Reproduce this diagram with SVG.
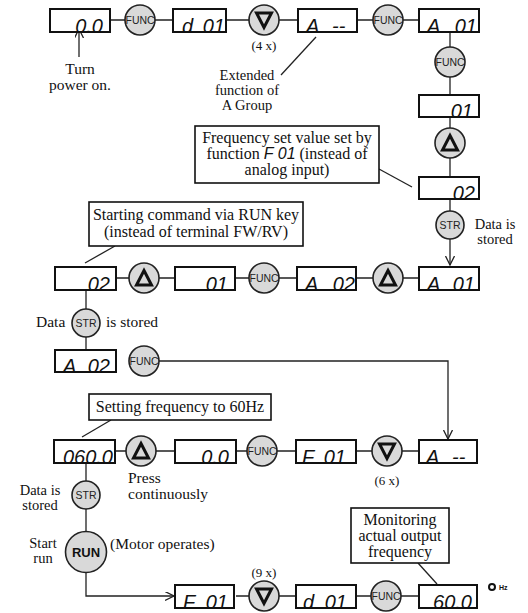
<svg xmlns="http://www.w3.org/2000/svg" width="528" height="613" viewBox="0 0 528 613">
<style>
.bx{fill:none;stroke:#111;stroke-width:2}
.bg{fill:#fff}
.d{font-family:"Liberation Sans",Arial,sans-serif;font-style:italic;font-size:20px;fill:#111}
.k{fill:#d9d9d9;stroke:#222;stroke-width:1.6}
.kt{font-family:"Liberation Sans",Arial,sans-serif;font-size:11.5px;fill:#222;text-anchor:middle}
.tri{fill:none;stroke:#111;stroke-width:3;stroke-linejoin:miter}
.t{font-family:"Liberation Serif","Times New Roman",serif;font-size:15.5px;fill:#111}
.s{font-size:14.5px}
.n{font-size:16px}
.c{text-anchor:middle}
.cl{fill:#fff;stroke:#111;stroke-width:1.6}
.ln{fill:none;stroke:#222;stroke-width:1.3}
</style>
<defs>
<marker id="ah" markerUnits="userSpaceOnUse" markerWidth="10" markerHeight="10" refX="9" refY="4.5" orient="auto">
<path d="M0,0 L9,4.5 L0,9" fill="none" stroke="#222" stroke-width="1.3"/>
</marker>
</defs>

<g id="connectors" class="ln">
<path d="M111,20H125M155,20H172M227,20H249M279,20H297M358,20H373M403,20H418"/>
<path d="M450,32V47M450,77V94M450,117V128M450,158V176M450,199V211"/>
<path d="M450,239V265" marker-end="url(#ah)"/>
<path d="M117,278H129M159,278H174M236,278H249M279,278H296M357,278H373M403,278H418"/>
<path d="M86,290V309M86,337V349"/>
<path d="M159,361H448V439" marker-end="url(#ah)"/>
<path d="M116,451H126M156,451H174M237,451H247M277,451H295M357,451H372M402,451H418"/>
<path d="M86,463V481M86,509V532"/>
<path d="M86,573V596H174" marker-end="url(#ah)"/>
<path d="M236,596H249M279,596H295M357,596H371M401,596H418"/>
<path d="M79,57V29" marker-end="url(#ah)"/>
<path d="M281,75L316,37"/>
<path d="M379,169L412,187"/>
<path d="M115,246L85,263"/>
<path d="M111,420L82,437"/>
<path d="M418,563L437,584"/>
</g>

<!-- Row 1 -->
<g id="n_disp1"><svg x="49" y="8" width="62" height="25"><rect class="bg" x="1" y="1" width="60" height="23"/><text class="d" x="54" y="25" text-anchor="end">0.0</text><rect class="bx" x="1" y="1" width="60" height="23"/></svg></g>
<g id="n_func1"><circle class="k" cx="140" cy="20" r="15"/><text class="kt" x="140" y="24" textLength="29" lengthAdjust="spacingAndGlyphs">FUNC</text></g>
<g id="n_disp2"><svg x="172" y="8" width="55" height="25"><rect class="bg" x="1" y="1" width="53" height="23"/><text class="d" x="10" y="25">d</text><text class="d" x="53" y="25" text-anchor="end">01</text><rect class="bx" x="1" y="1" width="53" height="23"/></svg></g>
<g id="n_down1"><circle class="k" cx="264" cy="20" r="15"/><path class="tri" d="M256.5,13H271.5L264,27.5Z"/></g>
<g id="n_disp3"><svg x="297" y="8" width="61" height="25"><rect class="bg" x="1" y="1" width="59" height="23"/><text class="d" x="9" y="25">A</text><text class="d" x="35" y="25">--</text><rect class="bx" x="1" y="1" width="59" height="23"/></svg></g>
<g id="n_func2"><circle class="k" cx="388" cy="20" r="15"/><text class="kt" x="388" y="24" textLength="29" lengthAdjust="spacingAndGlyphs">FUNC</text></g>
<g id="n_disp4"><svg x="418" y="8" width="62" height="25"><rect class="bg" x="1" y="1" width="60" height="23"/><text class="d" x="9" y="25">A</text><text class="d" x="59" y="25" text-anchor="end">01</text><rect class="bx" x="1" y="1" width="60" height="23"/></svg></g>

<!-- Right column -->
<g id="n_func3"><circle class="k" cx="450" cy="62" r="15"/><text class="kt" x="450" y="66" textLength="29" lengthAdjust="spacingAndGlyphs">FUNC</text></g>
<g id="n_disp5"><svg x="418" y="94" width="62" height="24"><rect class="bg" x="1" y="1" width="60" height="22"/><text class="d" x="55" y="24" text-anchor="end">01</text><rect class="bx" x="1" y="1" width="60" height="22"/></svg></g>
<g id="n_up1"><circle class="k" cx="450" cy="143" r="15"/><path class="tri" d="M450,135.5L457.5,150H442.5Z"/></g>
<g id="n_disp6"><svg x="418" y="176" width="62" height="24"><rect class="bg" x="1" y="1" width="60" height="22"/><text class="d" x="57" y="24" text-anchor="end">02</text><rect class="bx" x="1" y="1" width="60" height="22"/></svg></g>
<g id="n_str1"><circle class="k" cx="450" cy="225" r="14"/><text class="kt" x="450" y="229" style="font-size:10.5px">STR</text></g>

<!-- Row 3 -->
<g id="n_disp7"><svg x="54" y="266" width="63" height="25"><rect class="bg" x="1" y="1" width="61" height="23"/><text class="d" x="56" y="25" text-anchor="end">02</text><rect class="bx" x="1" y="1" width="61" height="23"/></svg></g>
<g id="n_up2"><circle class="k" cx="144" cy="278" r="15"/><path class="tri" d="M144,270.5L151.5,285H136.5Z"/></g>
<g id="n_disp8"><svg x="174" y="266" width="62" height="25"><rect class="bg" x="1" y="1" width="60" height="23"/><text class="d" x="54" y="25" text-anchor="end">01</text><rect class="bx" x="1" y="1" width="60" height="23"/></svg></g>
<g id="n_func4"><circle class="k" cx="264" cy="278" r="15"/><text class="kt" x="264" y="282" textLength="29" lengthAdjust="spacingAndGlyphs">FUNC</text></g>
<g id="n_disp9"><svg x="296" y="266" width="61" height="25"><rect class="bg" x="1" y="1" width="59" height="23"/><text class="d" x="9" y="25">A</text><text class="d" x="59" y="25" text-anchor="end">02</text><rect class="bx" x="1" y="1" width="59" height="23"/></svg></g>
<g id="n_up3"><circle class="k" cx="388" cy="278" r="15"/><path class="tri" d="M388,270.5L395.5,285H380.5Z"/></g>
<g id="n_disp10"><svg x="418" y="266" width="62" height="25"><rect class="bg" x="1" y="1" width="60" height="23"/><text class="d" x="9" y="25">A</text><text class="d" x="57" y="25" text-anchor="end">01</text><rect class="bx" x="1" y="1" width="60" height="23"/></svg></g>

<g id="n_str2"><circle class="k" cx="86" cy="323" r="14"/><text class="kt" x="86" y="327" style="font-size:10.5px">STR</text></g>
<g id="n_disp11"><svg x="54" y="349" width="63" height="24"><rect class="bg" x="1" y="1" width="61" height="22"/><text class="d" x="9" y="24">A</text><text class="d" x="56" y="24" text-anchor="end">02</text><rect class="bx" x="1" y="1" width="61" height="22"/></svg></g>
<g id="n_func5"><circle class="k" cx="144" cy="361" r="15"/><text class="kt" x="144" y="365" textLength="29" lengthAdjust="spacingAndGlyphs">FUNC</text></g>

<!-- Row 5 -->
<g id="n_disp12"><svg x="53" y="439" width="63" height="25"><rect class="bg" x="1" y="1" width="61" height="23"/><text class="d" x="60" y="25" text-anchor="end">060.0</text><rect class="bx" x="1" y="1" width="61" height="23"/></svg></g>
<g id="n_up4"><circle class="k" cx="141" cy="451" r="15"/><path class="tri" d="M141,443.5L148.5,458H133.5Z"/></g>
<g id="n_disp13"><svg x="174" y="439" width="63" height="25"><rect class="bg" x="1" y="1" width="61" height="23"/><text class="d" x="55" y="25" text-anchor="end">0.0</text><rect class="bx" x="1" y="1" width="61" height="23"/></svg></g>
<g id="n_func6"><circle class="k" cx="262" cy="451" r="15"/><text class="kt" x="262" y="455" textLength="29" lengthAdjust="spacingAndGlyphs">FUNC</text></g>
<g id="n_disp14"><svg x="295" y="439" width="62" height="25"><rect class="bg" x="1" y="1" width="60" height="23"/><text class="d" x="7" y="25">F</text><text class="d" x="51" y="25" text-anchor="end">01</text><rect class="bx" x="1" y="1" width="60" height="23"/></svg></g>
<g id="n_down2"><circle class="k" cx="387" cy="451" r="15"/><path class="tri" d="M379.5,444H394.5L387,458.5Z"/></g>
<g id="n_disp15"><svg x="418" y="439" width="60" height="25"><rect class="bg" x="1" y="1" width="58" height="23"/><text class="d" x="8" y="25">A</text><text class="d" x="34" y="25">--</text><rect class="bx" x="1" y="1" width="58" height="23"/></svg></g>

<g id="n_str3"><circle class="k" cx="86" cy="495" r="14"/><text class="kt" x="86" y="499" style="font-size:10.5px">STR</text></g>
<g id="n_run"><circle class="k" cx="86" cy="552" r="20.5"/><text class="kt" x="86" y="557" style="font-size:13px;font-weight:bold;fill:#111">RUN</text></g>

<!-- Row 6 -->
<g id="n_disp16"><svg x="174" y="584" width="61" height="25"><rect class="bg" x="1" y="1" width="59" height="23"/><text class="d" x="9" y="25">F</text><text class="d" x="54" y="25" text-anchor="end">01</text><rect class="bx" x="1" y="1" width="59" height="23"/></svg></g>
<g id="n_down3"><circle class="k" cx="264" cy="596" r="15"/><path class="tri" d="M256.5,589H271.5L264,603.5Z"/></g>
<g id="n_disp17"><svg x="295" y="584" width="62" height="25"><rect class="bg" x="1" y="1" width="60" height="23"/><text class="d" x="8" y="25">d</text><text class="d" x="52" y="25" text-anchor="end">01</text><rect class="bx" x="1" y="1" width="60" height="23"/></svg></g>
<g id="n_func7"><circle class="k" cx="386" cy="596" r="15"/><text class="kt" x="386" y="600" textLength="29" lengthAdjust="spacingAndGlyphs">FUNC</text></g>
<g id="n_disp18"><svg x="418" y="584" width="60" height="25"><rect class="bg" x="1" y="1" width="58" height="23"/><text class="d" x="54" y="25" text-anchor="end">60.0</text><rect class="bx" x="1" y="1" width="58" height="23"/></svg></g>
<g id="n_hz"><circle cx="492" cy="587" r="3" fill="none" stroke="#111" stroke-width="2"/><text x="499" y="590" style="font-family:'Liberation Sans',Arial,sans-serif;font-size:7px;font-weight:bold;fill:#111">Hz</text></g>

<!-- Callouts -->
<g id="n_note1"><rect class="cl" x="195" y="126" width="184" height="57"/>
<text class="t n c" x="287" y="143">Frequency set value set by</text>
<text class="t n c" x="287" y="159">function <tspan style="font-family:'Liberation Sans',Arial,sans-serif;font-style:italic">F 01</tspan> (instead of</text>
<text class="t n c" x="287" y="175">analog input)</text></g>
<g id="n_note2"><rect class="cl" x="89" y="202" width="214" height="44"/>
<text class="t n c" x="196" y="220">Starting command via RUN key</text>
<text class="t n c" x="196" y="237">(instead of terminal FW/RV)</text></g>
<g id="n_note3"><rect class="cl" x="89" y="394" width="182" height="26"/>
<text class="t n c" x="180" y="412">Setting frequency to 60Hz</text></g>
<g id="n_note4"><rect class="cl" x="351" y="508" width="98" height="55"/>
<text class="t n c" x="400" y="525">Monitoring</text>
<text class="t n c" x="400" y="541">actual output</text>
<text class="t n c" x="400" y="557">frequency</text></g>

<!-- Labels -->
<g id="labels">
<text class="t c" x="80" y="74">Turn</text>
<text class="t c" x="80" y="89.5">power on.</text>
<text class="t c" x="264" y="50" style="font-size:13px">(4 x)</text>
<text class="t s c" x="247" y="80">Extended</text>
<text class="t s c" x="247" y="95">function of</text>
<text class="t s c" x="247" y="110">A Group</text>
<text class="t s c" x="495" y="229">Data is</text>
<text class="t s c" x="495" y="244">stored</text>
<text class="t" x="36" y="327">Data</text>
<text class="t" x="106" y="327">is stored</text>
<text class="t s c" x="40" y="495">Data is</text>
<text class="t s c" x="40" y="510">stored</text>
<text class="t" x="128" y="483">Press</text>
<text class="t" x="128" y="499">continuously</text>
<text class="t s c" x="43" y="548">Start</text>
<text class="t s c" x="43" y="563">run</text>
<text class="t" x="110" y="549">(Motor operates)</text>
<text class="t c" x="387" y="485" style="font-size:13px">(6 x)</text>
<text class="t c" x="264" y="577" style="font-size:13px">(9 x)</text>
</g>
</svg>
